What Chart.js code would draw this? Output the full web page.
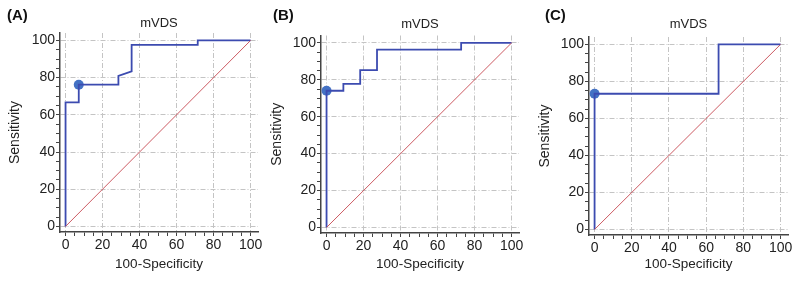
<!DOCTYPE html>
<html>
<head>
<meta charset="utf-8">
<script src="https://cdn.jsdelivr.net/npm/chart.js@4"></script>
<style>
  html, body { margin: 0; padding: 0; background: #fff; }
  #wrap { position: relative; width: 797px; height: 282px; overflow: hidden; }
  .panel { position: absolute; top: 0; height: 282px; }
  .tag { position: absolute; top: 6px; font: bold 15px "Liberation Sans", Arial, sans-serif; color: #111; }
</style>
</head>
<body>
<div id="wrap">
  <div class="panel" style="left:0;width:265px"><canvas id="chartA"></canvas></div>
  <div class="panel" style="left:265px;width:265px"><canvas id="chartB"></canvas></div>
  <div class="panel" style="left:530px;width:267px"><canvas id="chartC"></canvas></div>
  <span class="tag" style="left:7px">(A)</span>
  <span class="tag" style="left:273px">(B)</span>
  <span class="tag" style="left:545px">(C)</span>
</div>
<script>
// ==========================================
// Data
// ==========================================

const chartTitle = 'mVDS';
const xAxisLabel = '100-Specificity';
const yAxisLabel = 'Sensitivity';
const majorTicks = [0, 20, 40, 60, 80, 100];
const minorTicks = [0, 5, 10, 15, 20, 25, 30, 35, 40, 45, 50, 55, 60, 65, 70, 75, 80, 85, 90, 95, 100];
const diagonal = [0, 100];

// panel A
const fprA = [0, 0, 7.14, 7.14, 28.57, 28.57, 35.71, 35.71, 71.43, 71.43, 100];
const tprA = [0, 66.67, 66.67, 76.19, 76.19, 80.95, 83.33, 97.62, 97.62, 100, 100];
const cutA = [7.14, 76.19];

// panel B
const fprB = [0, 0, 9.09, 9.09, 18.18, 18.18, 27.27, 27.27, 72.73, 72.73, 100];
const tprB = [0, 74.07, 74.07, 77.78, 77.78, 85.19, 85.19, 96.30, 96.30, 100, 100];
const cutB = [0, 74.07];

// panel C
const fprC = [0, 0, 66.67, 66.67, 100];
const tprC = [0, 73.33, 73.33, 100, 100];
const cutC = [0, 73.33];

// ==========================================
// Chart Setup
// ==========================================

const FONT = '"Liberation Sans", Arial, sans-serif';

function toPoints(xs, ys) {
    return xs.map(function (x, i) { return { x: x, y: ys[i] }; });
}

function useTicks(scale) {
    scale.ticks = minorTicks.map(function (v) { return { value: v }; });
}

function isMajor(ctx) {
    return ctx.tick && majorTicks.indexOf(ctx.tick.value) >= 0;
}

function axis(title, fitSize, titlePad, horizontal) {
    return {
        type: 'linear',
        min: -3,
        max: 104,
        afterBuildTicks: useTicks,
        afterFit: function (s) {
            if (horizontal) { s.height = fitSize; } else { s.width = fitSize; }
        },
        ticks: {
            autoSkip: false,
            maxRotation: 0,
            padding: 1,
            color: '#222',
            font: { family: FONT, size: 14 },
            callback: function (v) {
                return majorTicks.indexOf(v) >= 0 ? String(v) : '';
            }
        },
        grid: {
            color: function (ctx) { return isMajor(ctx) ? '#c4c4c4' : 'rgba(0,0,0,0)'; },
            tickColor: '#444',
            tickLength: 4,
            lineWidth: 1
        },
        border: { display: true, color: '#444', width: 1.5, dash: [5, 2, 1, 2] },
        title: {
            display: true,
            text: title,
            color: '#222',
            font: { family: FONT, size: horizontal ? 13.5 : 14 },
            padding: horizontal ? { top: 0, bottom: titlePad } : { top: titlePad, bottom: 0 }
        }
    };
}

function createChart(id, fpr, tpr, cut, geo) {
    const ctx = document.getElementById(id).getContext('2d');
    return new Chart(ctx, {
        type: 'scatter',
        data: {
            datasets: [
                {
                    data: toPoints(diagonal, diagonal),
                    showLine: true,
                    borderColor: '#cc5a62',
                    borderWidth: 1,
                    pointRadius: 0
                },
                {
                    data: toPoints(fpr, tpr),
                    showLine: true,
                    borderColor: '#3c4bb0',
                    borderWidth: 1.8,
                    pointRadius: 0
                },
                {
                    data: [{ x: cut[0], y: cut[1] }],
                    pointRadius: 5,
                    pointBackgroundColor: '#4472c4',
                    pointBorderColor: '#4472c4',
                    pointBorderWidth: 0
                }
            ]
        },
        options: {
            responsive: true,
            maintainAspectRatio: false,
            animation: false,
            clip: false,
            layout: { padding: { left: 0, right: geo.padRight, top: 0, bottom: 0 } },
            scales: {
                x: axis(xAxisLabel, geo.xH, 10, true),
                y: axis(yAxisLabel, geo.yW, geo.yTitlePad, false)
            },
            plugins: {
                legend: { display: false },
                tooltip: { enabled: false },
                title: {
                    display: true,
                    fullSize: false,
                    text: chartTitle,
                    color: '#222',
                    font: { family: FONT, size: 13, weight: 'normal' },
                    padding: { top: geo.tTop, bottom: geo.tBottom }
                }
            }
        }
    });
}

// ==========================================
// Initialization
// ==========================================

createChart('chartA', fprA, tprA, cutA, { yW: 60, padRight: 7, xH: 50, tTop: 15.5, tBottom: 1.9, yTitlePad: 7 });
createChart('chartB', fprB, tprB, cutB, { yW: 56, padRight: 11, xH: 49, tTop: 16.9, tBottom: 3, yTitlePad: 4 });
createChart('chartC', fprC, tprC, cutC, { yW: 59, padRight: 9, xH: 47, tTop: 16.9, tBottom: 4.5, yTitlePad: 6.5 });
</script>
</body>
</html>
